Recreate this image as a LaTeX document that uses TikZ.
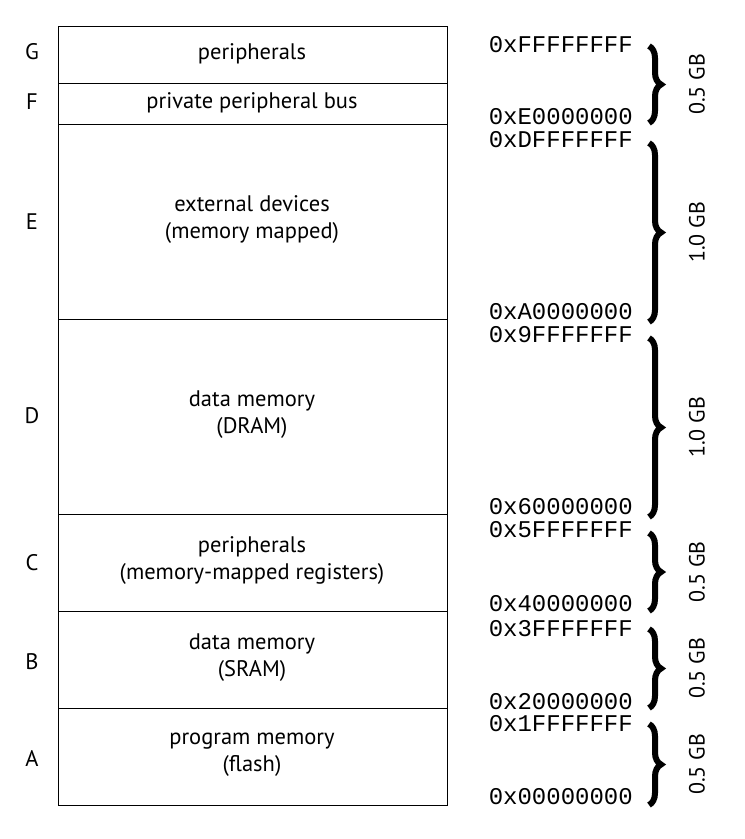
\documentclass[tikz,border=0pt]{standalone}
\usepackage{fontspec}
\setmainfont{PT Sans}
\setmonofont{Liberation Mono}
\usetikzlibrary{decorations.pathreplacing}
\begin{document}
\begin{tikzpicture}[x=1pt,y=-1pt,
  lbl/.style={font=\fontsize{22.5}{27}\selectfont,align=center},
  addr/.style={font=\ttfamily\fontsize{24}{24}\selectfont,anchor=east,inner sep=0},
  br/.style={decorate,decoration={brace,amplitude=12pt},line width=6pt},
  gb/.style={font=\fontsize{22}{22}\selectfont,rotate=90,anchor=center}]
\useasboundingbox (0,0) rectangle (745,839);
\draw[line width=0.8pt] (58,26) rectangle (447,805);
\foreach \y in {83,124,319,514,611,708} \draw[line width=0.8pt] (58,\y)--(447,\y);
\node[lbl] (tG) at (252,54) {peripherals};
\node[lbl] (tF) at (252,103) {private peripheral bus};
\node[lbl] (tE) at (252,220) {external devices\\(memory mapped)};
\node[lbl] (tD) at (252,415) {data memory\\(DRAM)};
\node[lbl] (tC) at (252,561) {peripherals\\(memory-mapped registers)};
\node[lbl] (tB) at (252,658) {data memory\\(SRAM)};
\node[lbl] (tA) at (252,755) {program memory\\(flash)};
\foreach \l/\y in {G/52,F/102,E/222,D/416,C/563,B/662,A/758}
  \node[lbl] (L\l) at (32,\y) {\l};
\foreach \a/\y [count=\i] in {FFFFFFFF/45,E0000000/117,DFFFFFFF/140,A0000000/312,9FFFFFFF/335,60000000/507,5FFFFFFF/530,40000000/604,3FFFFFFF/629,20000000/702,1FFFFFFF/724,00000000/797}
  \node[addr] (a\i) at (633,\y) {0x\a};
\foreach \t/\b/\s in {46/123/0.5,143/322/1.0,338/517/1.0,533/611/0.5,629/708/0.5,724/805/0.5}{
  \draw[br] (649,\t) -- (649,\b);
  \node[gb] at (697,{(\t+\b)/2}) {\s\ GB};}
\end{tikzpicture}
\end{document}
